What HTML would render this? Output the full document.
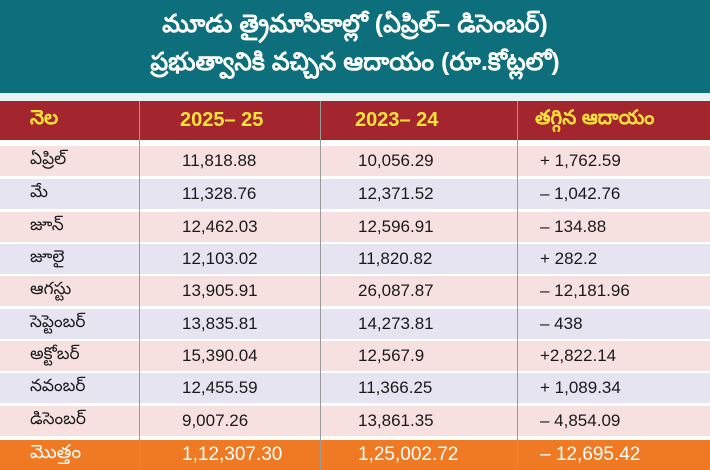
<!DOCTYPE html>
<html><head><meta charset="utf-8"><style>
*{margin:0;padding:0;box-sizing:border-box}
body{width:710px;height:470px;overflow:hidden;background:#fff;font-family:"Liberation Sans","DejaVu Sans",sans-serif;position:relative}
.title{position:absolute;left:0;top:0;width:710px;height:93px;background:#0d6f7c;color:#fff;text-align:center;font-size:25px;font-weight:bold;line-height:38px;padding-top:5px}
.strip{position:absolute;left:0;top:93px;width:710px;height:8px;background:#e8f3f3}
.row{position:absolute;left:0;width:710px}
.c{position:absolute;top:0;height:100%;display:flex;align-items:center;white-space:nowrap}
.hdr{top:101px;height:39px;background:#a3262f;color:#ffe23a;font-size:20px;font-weight:bold}
.d{height:30px;font-size:17px;color:#1a1a1a}
.p{background:#f7e1e0}.l{background:#e5e4f0}
.tot{top:440px;height:30px;background:#f07a24;color:#fff;font-size:19px}
.v{position:absolute;top:101px;width:1px;height:369px;background:#9a9a9a}
</style></head><body>
<div class="title">మూడు త్రైమాసికాల్లో (ఏప్రిల్– డిసెంబర్)<br>ప్రభుత్వానికి వచ్చిన ఆదాయం (రూ.కోట్లలో)</div>
<div class="strip"></div>
<div class="row hdr"><div class="c" style="left:30px">నెల</div><div class="c" style="left:180px">2025– 25</div><div class="c" style="left:355px">2023– 24</div><div class="c" style="left:535px">తగ్గిన ఆదాయం</div></div>

<div class="row d p" style="top:146px"><div class="c" style="left:30px">ఏప్రిల్</div><div class="c" style="left:182px">11,818.88</div><div class="c" style="left:358px">10,056.29</div><div class="c" style="left:540px">+ 1,762.59</div></div>
<div class="row d l" style="top:179px"><div class="c" style="left:30px">మే</div><div class="c" style="left:182px">11,328.76</div><div class="c" style="left:358px">12,371.52</div><div class="c" style="left:540px">– 1,042.76</div></div>
<div class="row d p" style="top:212px"><div class="c" style="left:30px">జూన్</div><div class="c" style="left:182px">12,462.03</div><div class="c" style="left:358px">12,596.91</div><div class="c" style="left:540px">– 134.88</div></div>
<div class="row d l" style="top:244px"><div class="c" style="left:30px">జూలై</div><div class="c" style="left:182px">12,103.02</div><div class="c" style="left:358px">11,820.82</div><div class="c" style="left:540px">+ 282.2</div></div>
<div class="row d p" style="top:276px"><div class="c" style="left:30px">ఆగస్టు</div><div class="c" style="left:182px">13,905.91</div><div class="c" style="left:358px">26,087.87</div><div class="c" style="left:540px">– 12,181.96</div></div>
<div class="row d l" style="top:309px"><div class="c" style="left:30px">సెప్టెంబర్</div><div class="c" style="left:182px">13,835.81</div><div class="c" style="left:358px">14,273.81</div><div class="c" style="left:540px">– 438</div></div>
<div class="row d p" style="top:341px"><div class="c" style="left:30px">అక్టోబర్</div><div class="c" style="left:182px">15,390.04</div><div class="c" style="left:358px">12,567.9</div><div class="c" style="left:540px">+2,822.14</div></div>
<div class="row d l" style="top:373px"><div class="c" style="left:30px">నవంబర్</div><div class="c" style="left:182px">12,455.59</div><div class="c" style="left:358px">11,366.25</div><div class="c" style="left:540px">+ 1,089.34</div></div>
<div class="row d p" style="top:406px"><div class="c" style="left:30px">డిసెంబర్</div><div class="c" style="left:182px">9,007.26</div><div class="c" style="left:358px">13,861.35</div><div class="c" style="left:540px">– 4,854.09</div></div>

<div class="row tot"><div class="c" style="left:30px">మొత్తం</div><div class="c" style="left:182px">1,12,307.30</div><div class="c" style="left:358px">1,25,002.72</div><div class="c" style="left:540px">– 12,695.42</div></div>

<div class="v" style="left:139px"></div>
<div class="v" style="left:320px"></div>
<div class="v" style="left:517px"></div>
</body></html>
